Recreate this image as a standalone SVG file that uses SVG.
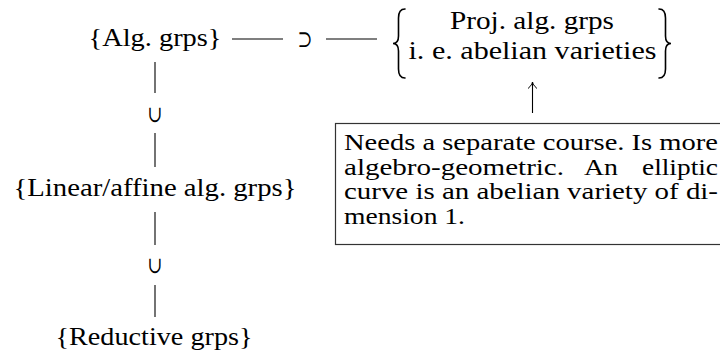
<svg xmlns="http://www.w3.org/2000/svg" width="720" height="354" viewBox="0 0 720 354">
<defs>
<style>
.t{font-family:"Liberation Serif","Times New Roman",serif;font-size:26px;fill:#000}
.n{font-family:"Liberation Serif","Times New Roman",serif;font-size:23.5px;fill:#000}
.m{font-family:"DejaVu Serif","DejaVu Sans",serif;font-size:23px;fill:#000}
.c{stroke:#000;stroke-width:1.1;fill:none}
.br{stroke:#000;stroke-width:1.6;fill:none;stroke-linecap:round}
.box{stroke:#333;stroke-width:1.2;fill:#fff}
</style>
<marker id="ah" markerUnits="userSpaceOnUse" markerWidth="14" markerHeight="12" refX="0" refY="0" viewBox="-8 -6 10 12" orient="auto" overflow="visible">
<path d="M-6.5,-4.5 C-4,-1.5 -1.5,-0.3 0,0 C-1.5,0.3 -4,1.5 -6.5,4.5" stroke="#000" stroke-width="1" fill="none"/>
</marker>
</defs>
<rect width="720" height="354" fill="#fff"/>
<g id="connectors">
<line class="c" x1="232" y1="39" x2="283" y2="39"/>
<text class="m" x="305" y="46.5" text-anchor="middle" textLength="15" lengthAdjust="spacingAndGlyphs">⊃</text>
<line class="c" x1="326" y1="39" x2="377" y2="39"/>
<line class="c" x1="155" y1="62" x2="155" y2="93"/>
<text class="m" x="155" y="122" text-anchor="middle" textLength="15" lengthAdjust="spacingAndGlyphs">∪</text>
<line class="c" x1="155" y1="133" x2="155" y2="167"/>
<line class="c" x1="155" y1="212" x2="155" y2="245"/>
<text class="m" x="155" y="273" text-anchor="middle" textLength="15" lengthAdjust="spacingAndGlyphs">∪</text>
<line class="c" x1="155" y1="285" x2="155" y2="317"/>
<line class="c" x1="532.5" y1="113" x2="532.5" y2="82" marker-end="url(#ah)"/>
</g>
<g id="alg">
<text class="t" x="155" y="45.5" text-anchor="middle" textLength="133" lengthAdjust="spacingAndGlyphs">{Alg. grps}</text>
</g>
<g id="linear">
<text class="t" x="155" y="196" text-anchor="middle" textLength="283" lengthAdjust="spacingAndGlyphs">{Linear/affine alg. grps}</text>
</g>
<g id="reductive">
<text class="t" x="154" y="345" text-anchor="middle" textLength="197" lengthAdjust="spacingAndGlyphs">{Reductive grps}</text>
</g>
<g id="proj">
<path class="br" d="M405,9 C400,9 398.5,12 398.5,18 L398.5,36 C398.5,41 397,43.5 393,43.5 C397,43.5 398.5,46 398.5,51 L398.5,69 C398.5,75 400,78 405,78"/>
<text class="t" x="532" y="29" text-anchor="middle" textLength="164" lengthAdjust="spacingAndGlyphs">Proj. alg. grps</text>
<text class="t" x="532.5" y="59" text-anchor="middle" textLength="248" lengthAdjust="spacingAndGlyphs">i. e. abelian varieties</text>
<path class="br" d="M659,9 C664,9 665.5,12 665.5,18 L665.5,36 C665.5,41 667,43.5 671,43.5 C667,43.5 665.5,46 665.5,51 L665.5,69 C665.5,75 664,78 659,78"/>
</g>
<g id="note">
<rect class="box" x="335.5" y="123.5" width="400" height="121"/>
<text class="n" x="344" y="150" textLength="374" lengthAdjust="spacingAndGlyphs">Needs a separate course. Is more</text>
<text class="n" x="344" y="174.5" textLength="220" lengthAdjust="spacingAndGlyphs">algebro-geometric.</text>
<text class="n" x="584" y="174.5" textLength="34" lengthAdjust="spacingAndGlyphs">An</text>
<text class="n" x="642" y="174.5" textLength="76" lengthAdjust="spacingAndGlyphs">elliptic</text>
<text class="n" x="344" y="199" textLength="374" lengthAdjust="spacingAndGlyphs">curve is an abelian variety of di-</text>
<text class="n" x="344" y="223.5" textLength="121" lengthAdjust="spacingAndGlyphs">mension 1.</text>
</g>
</svg>
